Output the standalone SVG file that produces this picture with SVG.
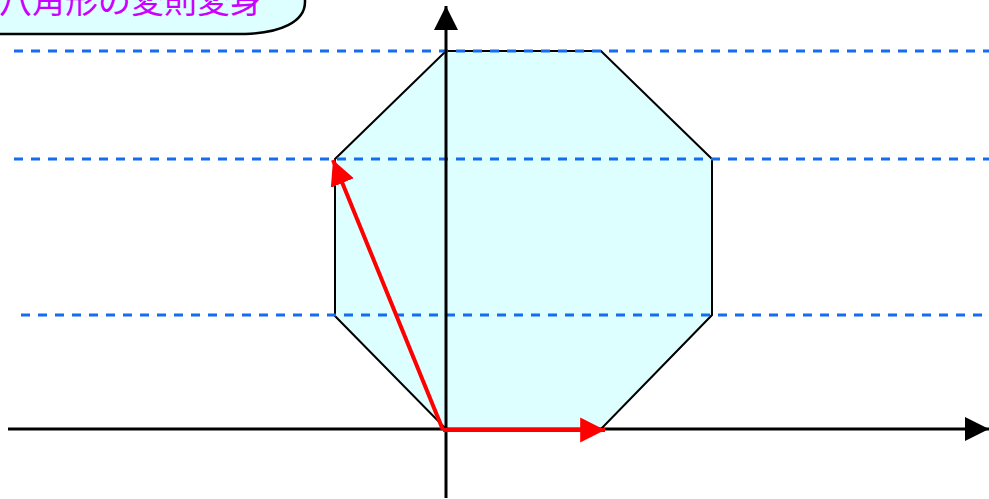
<svg xmlns="http://www.w3.org/2000/svg" width="989" height="499" viewBox="0 0 989 499">
<style>
.dash{stroke:#146cf0;stroke-width:3;stroke-dasharray:9 8;fill:none}
.axis{stroke:#000;stroke-width:3;fill:none}
.vec{stroke:#ff0000;stroke-width:4;fill:none}
</style>
<defs>
<marker id="ah" viewBox="0 0 10 10" refX="10" refY="5" markerWidth="8" markerHeight="9" markerUnits="strokeWidth" orient="auto"><path d="M0,0 L10,5 L0,10 Z" fill="#000"/></marker>
<marker id="rh" viewBox="0 0 10 10" refX="10" refY="5" markerWidth="6.2" markerHeight="6.8" markerUnits="strokeWidth" orient="auto"><path d="M0,0 L10,5 L0,10 Z" fill="#ff0000"/></marker>
</defs>
<rect width="989" height="499" fill="#fff"/>
<g id="title">
<path d="M-5,-5 H305 V2 C305,22 280,33 245,34 H-5 Z" fill="#ddffff" stroke="#000" stroke-width="2.5"/>
<text x="-1" y="13" font-family="Noto Sans CJK JP, sans-serif" font-size="33" fill="#cc00ff">八角形の変則変身</text>
</g>
<g id="octagon">
<polygon points="446,51 601,51 712,159 712,315 601,429 446,429 335,316 335,159" fill="#ddffff" stroke="#000" stroke-width="2"/>
</g>
<g id="guides">
<line class="dash" x1="14" y1="51" x2="989" y2="51"/>
<line class="dash" x1="14" y1="159" x2="989" y2="159"/>
<line class="dash" x1="21" y1="315" x2="989" y2="315"/>
</g>
<g id="connectors">
<line class="axis" x1="8" y1="429" x2="989" y2="429" marker-end="url(#ah)"/>
<line class="axis" x1="446" y1="498" x2="446" y2="6" marker-end="url(#ah)"/>
<line class="vec" x1="443" y1="430" x2="605" y2="430" marker-end="url(#rh)"/>
<line class="vec" x1="443" y1="430" x2="333" y2="160" marker-end="url(#rh)"/>
</g>
</svg>
